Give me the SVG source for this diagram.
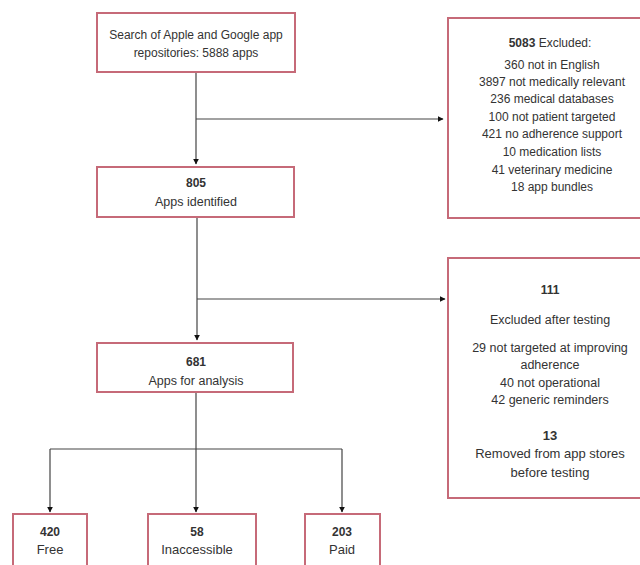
<svg xmlns="http://www.w3.org/2000/svg" width="640" height="565" viewBox="0 0 640 565">
<defs>
<marker id="ah" viewBox="0 0 10 10" refX="9" refY="5" markerWidth="6" markerHeight="6" orient="auto" markerUnits="userSpaceOnUse">
<path d="M0,0 L10,5 L0,10 z" fill="#111"/>
</marker>
<style>
.box{fill:#fff;stroke:#c66a78;stroke-width:2}
.t{font-family:"Liberation Sans",Arial,sans-serif;font-size:12px;fill:#333;text-anchor:middle}
.b{font-weight:bold}
.c{fill:none;stroke:#444;stroke-width:1.2}
</style>
</defs>
<rect width="640" height="565" fill="#fff"/>
<g id="connectors">
<line class="c" x1="196" y1="72" x2="196" y2="164" marker-end="url(#ah)"/>
<line class="c" x1="196" y1="119" x2="443" y2="119" marker-end="url(#ah)"/>
<line class="c" x1="197" y1="217" x2="197" y2="340" marker-end="url(#ah)"/>
<line class="c" x1="197" y1="299" x2="445" y2="299" marker-end="url(#ah)"/>
<line class="c" x1="196" y1="392" x2="196" y2="449"/>
<line class="c" x1="50" y1="449" x2="342" y2="449"/>
<line class="c" x1="50" y1="449" x2="50" y2="512" marker-end="url(#ah)"/>
<line class="c" x1="196" y1="449" x2="196" y2="512" marker-end="url(#ah)"/>
<line class="c" x1="342" y1="449" x2="342" y2="512" marker-end="url(#ah)"/>
</g>
<g id="search">
<rect class="box" x="97" y="13" width="198" height="59"/>
<text class="t" x="196" y="39">Search of Apple and Google app</text>
<text class="t" x="196" y="57">repositories: 5888 apps</text>
</g>
<g id="excluded">
<rect class="box" x="448" y="18" width="200" height="200"/>
<text class="t" x="550" y="47"><tspan class="b">5083</tspan> Excluded:</text>
<text class="t" x="552" y="69">360 not in English</text>
<text class="t" x="552" y="86">3897 not medically relevant</text>
<text class="t" x="552" y="103">236 medical databases</text>
<text class="t" x="552" y="121">100 not patient targeted</text>
<text class="t" x="552" y="138">421 no adherence support</text>
<text class="t" x="552" y="156">10 medication lists</text>
<text class="t" x="552" y="174">41 veterinary medicine</text>
<text class="t" x="552" y="191">18 app bundles</text>
</g>
<g id="identified">
<rect class="box" x="97" y="167" width="197" height="50"/>
<text class="t b" x="196" y="187">805</text>
<text class="t" x="196" y="206" style="font-size:12.5px">Apps identified</text>
</g>
<g id="after-testing">
<rect class="box" x="448" y="258" width="200" height="240"/>
<text class="t b" x="550" y="294">111</text>
<text class="t" x="550" y="324" style="font-size:12.5px">Excluded after testing</text>
<text class="t" x="550" y="352" style="font-size:12.5px">29 not targeted at improving</text>
<text class="t" x="550" y="369" style="font-size:12.5px">adherence</text>
<text class="t" x="550" y="387" style="font-size:12.5px">40 not operational</text>
<text class="t" x="550" y="404" style="font-size:12.5px">42 generic reminders</text>
<text class="t b" x="550" y="440" style="font-size:13px">13</text>
<text class="t" x="550" y="458" style="font-size:13px">Removed from app stores</text>
<text class="t" x="550" y="477" style="font-size:13px">before testing</text>
</g>
<g id="analysis">
<rect class="box" x="97" y="343" width="196" height="49"/>
<text class="t b" x="196" y="366">681</text>
<text class="t" x="196" y="385" style="font-size:12.5px">Apps for analysis</text>
</g>
<g id="free">
<rect class="box" x="13" y="514" width="74" height="60"/>
<text class="t b" x="50" y="536">420</text>
<text class="t" x="50" y="554" style="font-size:13px">Free</text>
</g>
<g id="inaccessible">
<rect class="box" x="148" y="514" width="108" height="60"/>
<text class="t b" x="197" y="536">58</text>
<text class="t" x="197" y="554" style="font-size:13px">Inaccessible</text>
</g>
<g id="paid">
<rect class="box" x="305" y="514" width="75" height="60"/>
<text class="t b" x="342" y="536">203</text>
<text class="t" x="342" y="554" style="font-size:13px">Paid</text>
</g>
</svg>
